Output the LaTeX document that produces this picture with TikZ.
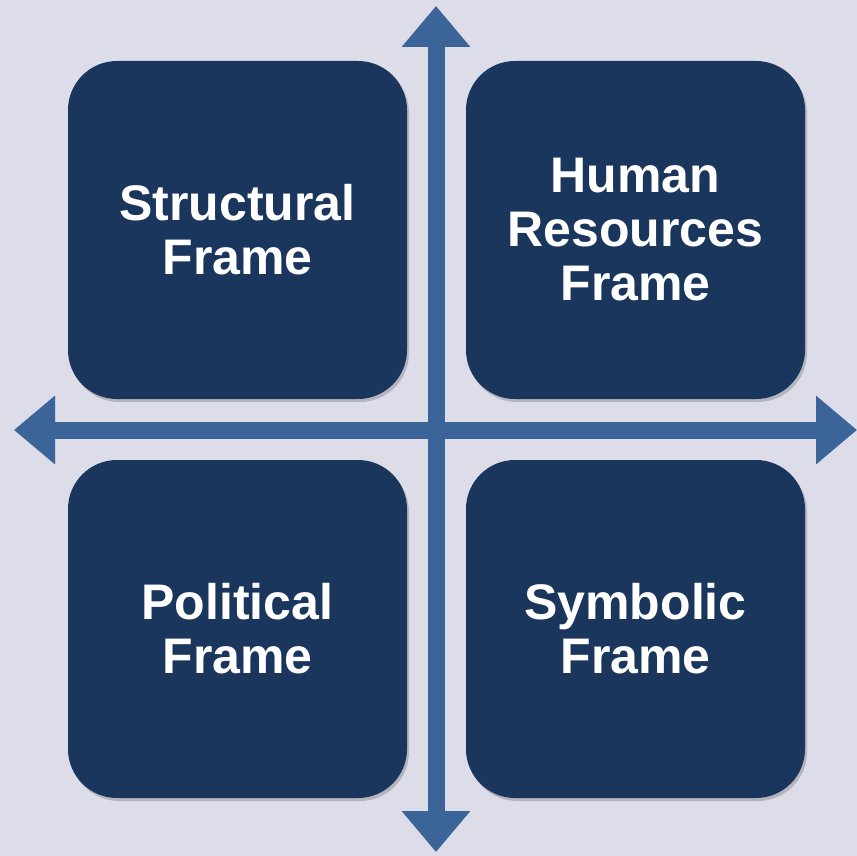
\documentclass[tikz,border=0pt]{standalone}
\usepackage{fontspec}
\setsansfont{Liberation Sans}
\usetikzlibrary{arrows.meta}

\definecolor{bgcol}{HTML}{DDDDEA}
\definecolor{framecol}{HTML}{1B365D}
\definecolor{axiscol}{HTML}{3B6599}

\tikzset{
  framebox/.style={fill=framecol, rounded corners=49pt, minimum width=339pt, minimum height=338pt, inner sep=0pt,
    text=white, align=center, font=\sffamily\bfseries\fontsize{50}{54}\selectfont},
  frameshadow/.style={fill=black, opacity=0.18, rounded corners=49pt, minimum width=339pt, minimum height=338pt, inner sep=0pt},
  axis/.style={draw=axiscol, line width=17pt, {Triangle[width=66pt,length=41pt]}-{Triangle[width=66pt,length=41pt]}},
  axisshadow/.style={draw=black, opacity=0.15, line width=17pt, {Triangle[width=66pt,length=41pt]}-{Triangle[width=66pt,length=41pt]}}
}

\begin{document}
\begin{tikzpicture}[x=1pt,y=-1pt]
\fill[bgcol] (0,0) rectangle (857,856);
\useasboundingbox (0,0) rectangle (857,856);

\foreach \Point in {(239.5,233), (637.5,233), (239.5,632), (637.5,632)}{
    \node[frameshadow] at \Point {};}

\node[framebox] (structural) at (237.5,230) {Structural\\Frame};
\node[framebox] (human) at (635.5,230) {Human\\Resources\\Frame};
\node[framebox] (political) at (237.5,629) {Political\\Frame};
\node[framebox] (symbolic) at (635.5,629) {Symbolic\\Frame};

\coordinate (top) at (436,6);
\coordinate (bottom) at (436,852);
\coordinate (left) at (14,430);
\coordinate (right) at (857,430);

\begin{scope}[shift={(1,5)}]
\draw[axisshadow] (top) -- (bottom);
\draw[axisshadow] (left) -- (right);
\end{scope}
\draw[axis] (top) -- (bottom);
\draw[axis] (left) -- (right);
\end{tikzpicture}
\end{document}
